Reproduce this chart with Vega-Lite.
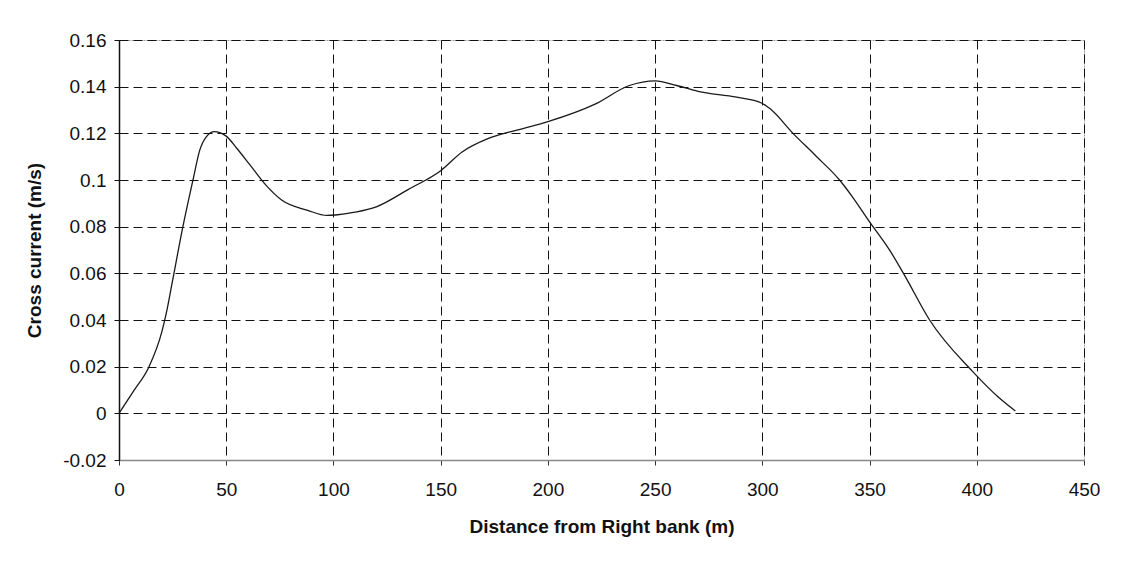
{
  "$schema": "https://vega.github.io/schema/vega-lite/v6.json",
  "width": 965,
  "height": 420,
  "autosize": "none",
  "padding": {"left": 119, "top": 40, "right": 39, "bottom": 105},
  "background": "white",
  "config": {
    "view": {"stroke": "#9a9a9a", "strokeDash": [2, 1], "strokeWidth": 1},
    "font": "Liberation Sans"
  },
  "data": {
    "values": [
      {"distance": 0, "current": 0},
      {"distance": 7, "current": 0.0098},
      {"distance": 14, "current": 0.02},
      {"distance": 20, "current": 0.035},
      {"distance": 22, "current": 0.0427},
      {"distance": 25, "current": 0.057},
      {"distance": 29.8, "current": 0.08},
      {"distance": 34.5, "current": 0.1},
      {"distance": 37.6, "current": 0.1126},
      {"distance": 40.7, "current": 0.1185},
      {"distance": 44.5, "current": 0.1207},
      {"distance": 47, "current": 0.1203},
      {"distance": 50, "current": 0.1188},
      {"distance": 55, "current": 0.1135},
      {"distance": 60.8, "current": 0.1068},
      {"distance": 68.5, "current": 0.0978},
      {"distance": 76, "current": 0.0913},
      {"distance": 88, "current": 0.087},
      {"distance": 97, "current": 0.0848},
      {"distance": 101, "current": 0.085},
      {"distance": 110, "current": 0.0862},
      {"distance": 120, "current": 0.0885},
      {"distance": 135, "current": 0.096},
      {"distance": 150, "current": 0.104},
      {"distance": 160, "current": 0.112},
      {"distance": 172, "current": 0.1177},
      {"distance": 186, "current": 0.1215},
      {"distance": 200, "current": 0.125},
      {"distance": 222, "current": 0.1325},
      {"distance": 238, "current": 0.1405},
      {"distance": 250, "current": 0.1425},
      {"distance": 260, "current": 0.1405},
      {"distance": 270, "current": 0.138},
      {"distance": 288, "current": 0.1355},
      {"distance": 299.6, "current": 0.133},
      {"distance": 303.5, "current": 0.1306},
      {"distance": 314.3, "current": 0.12},
      {"distance": 325, "current": 0.1103},
      {"distance": 336, "current": 0.1},
      {"distance": 342, "current": 0.0928},
      {"distance": 349.6, "current": 0.0826},
      {"distance": 359.6, "current": 0.0696},
      {"distance": 366.6, "current": 0.0587},
      {"distance": 378, "current": 0.04},
      {"distance": 398, "current": 0.018},
      {"distance": 410, "current": 0.007},
      {"distance": 418, "current": 0.001}
    ]
  },
  "mark": {"type": "line", "interpolate": "monotone", "color": "#1a1a1a", "strokeWidth": 1.3},
  "encoding": {
    "x": {
      "field": "distance",
      "type": "quantitative",
      "scale": {"domain": [0, 450], "nice": false, "zero": false},
      "axis": {
        "title": "Distance from Right bank (m)",
        "values": [0, 50, 100, 150, 200, 250, 300, 350, 400, 450],
        "labelFlush": false,
        "grid": true,
        "gridColor": "#111111",
        "gridDash": [9, 5],
        "gridWidth": 1,
        "domainColor": "#888888",
        "domainWidth": 1.5,
        "tickColor": "#333333",
        "tickSize": 5,
        "labelFontSize": 19,
        "labelColor": "#111111",
        "labelPadding": 15,
        "labelFont": "Liberation Sans",
        "titleFont": "Liberation Sans",
        "titleFontSize": 19,
        "titleFontWeight": "bold",
        "titleColor": "#111111",
        "titlePadding": 18
      }
    },
    "y": {
      "field": "current",
      "type": "quantitative",
      "scale": {"domain": [-0.02, 0.16], "nice": false, "zero": false},
      "axis": {
        "title": "Cross current (m/s)",
        "values": [-0.02, 0, 0.02, 0.04, 0.06, 0.08, 0.1, 0.12, 0.14, 0.16],
        "labelExpr": "'' + round(datum.value * 100) / 100",
        "labelFlush": false,
        "grid": true,
        "gridColor": "#111111",
        "gridDash": [9, 5],
        "gridWidth": 1,
        "domainColor": "#111111",
        "domainWidth": 1.5,
        "tickColor": "#111111",
        "tickSize": 5,
        "labelFontSize": 19,
        "labelColor": "#111111",
        "labelPadding": 8,
        "labelFont": "Liberation Sans",
        "titleFont": "Liberation Sans",
        "titleFontSize": 19,
        "titleFontWeight": "bold",
        "titleColor": "#111111",
        "titlePadding": 18
      }
    }
  }
}
